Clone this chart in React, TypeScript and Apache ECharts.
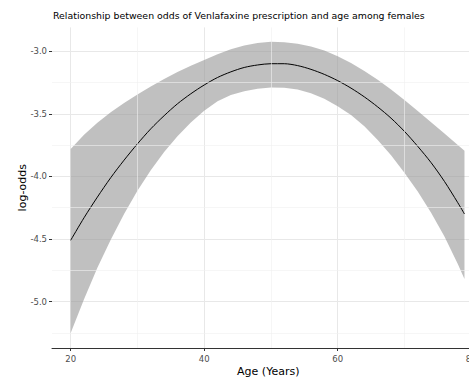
import React, { useEffect, useRef } from "react";
import * as echarts from "echarts";

const titleText = "Relationship between odds of Venlafaxine prescription and age among females";
const xTitle = "Age (Years)";
const yTitle = "log-odds";

const ages = [20, 22, 24, 26, 28, 30, 32, 34, 36, 38, 40, 42, 44, 46, 48, 50, 52, 54, 56, 58, 60, 62, 64, 66, 68, 70, 72, 74, 76, 78, 79];
const fit = [-4.51, -4.33, -4.165, -4.01, -3.87, -3.74, -3.62, -3.515, -3.42, -3.34, -3.27, -3.21, -3.165, -3.13, -3.11, -3.10, -3.10, -3.115, -3.145, -3.185, -3.235, -3.295, -3.365, -3.445, -3.535, -3.64, -3.76, -3.89, -4.04, -4.21, -4.30];
const upper = [-3.78, -3.668, -3.572, -3.488, -3.414, -3.346, -3.282, -3.222, -3.166, -3.116, -3.07, -3.024, -2.984, -2.954, -2.934, -2.924, -2.928, -2.94, -2.962, -2.995, -3.04, -3.095, -3.158, -3.228, -3.305, -3.39, -3.478, -3.568, -3.658, -3.75, -3.795];
const lower = [-5.25, -4.98, -4.73, -4.505, -4.30, -4.115, -3.95, -3.805, -3.68, -3.57, -3.475, -3.40, -3.35, -3.32, -3.30, -3.29, -3.292, -3.305, -3.335, -3.38, -3.44, -3.51, -3.60, -3.71, -3.83, -3.97, -4.12, -4.29, -4.48, -4.70, -4.82];

const xTicks = [20, 40, 60, 80];
const xMinorTicks = [30, 50, 70];
const yTicks = [-5.0, -4.5, -4.0, -3.5, -3.0];
const yMinorTicks = [-5.25, -4.75, -4.25, -3.75, -3.25];

const X_MIN = 17.2;
const X_MAX = 82;
const Y_MIN = -5.37;
const Y_MAX = -2.81;

const FONT = "DejaVu Sans";

export default function App() {
  const ref = useRef<HTMLDivElement>(null);
  useEffect(() => {
    if (!ref.current) return;
    const chart = echarts.init(ref.current, null, { renderer: "svg" });
    const majorGrid = { show: true, lineStyle: { color: "#e8e8e8", width: 1 } };
    chart.setOption({
      animation: false,
      backgroundColor: "#ffffff",
      title: {
        text: titleText,
        left: 53,
        top: 11,
        padding: 0,
        textStyle: { fontFamily: FONT, fontSize: 9.4, fontWeight: "normal", color: "#000" },
      },
      grid: { left: 52, right: 15.5, top: 27.4, bottom: 29, containLabel: false },
      xAxis: {
        type: "value",
        min: X_MIN,
        max: X_MAX,
        name: xTitle,
        nameLocation: "middle",
        nameGap: 18,
        nameMoveOverlap: false,
        nameTextStyle: { fontFamily: FONT, fontSize: 11, color: "#000" },
        axisLine: { show: true, onZero: false, lineStyle: { color: "#333", width: 1 } },
        axisTick: { show: true, length: 3, customValues: xTicks, lineStyle: { color: "#333" } },
        axisLabel: { customValues: xTicks, margin: 6, fontFamily: FONT, fontSize: 8.5, color: "#4d4d4d" },
        splitLine: majorGrid,
      },
      yAxis: {
        type: "value",
        min: Y_MIN,
        max: Y_MAX,
        name: yTitle,
        nameLocation: "middle",
        nameGap: 24,
        nameMoveOverlap: false,
        nameTextStyle: { fontFamily: FONT, fontSize: 11, color: "#000" },
        axisLine: { show: false },
        axisTick: { show: true, length: 3, customValues: yTicks, lineStyle: { color: "#333" } },
        axisLabel: {
          customValues: yTicks,
          margin: 5,
          fontFamily: FONT,
          fontSize: 8.5,
          color: "#4d4d4d",
          formatter: (v: number) => v.toFixed(1),
        },
        splitLine: majorGrid,
      },
      series: [
        {
          type: "line",
          data: [],
          silent: true,
          z: 1,
          markLine: {
            silent: true,
            symbol: "none",
            label: { show: false },
            lineStyle: { color: "#f0f0f0", width: 0.6, type: "solid" },
            data: [
              ...xMinorTicks.map((v) => ({ xAxis: v })),
              ...yMinorTicks.map((v) => ({ yAxis: v })),
            ],
          },
        },
        {
          type: "custom",
          z: 2,
          silent: true,
          data: [[50, -4]],
          renderItem: (_params: any, api: any) => {
            const pts: number[][] = [];
            for (let i = 0; i < ages.length; i++) pts.push(api.coord([ages[i], upper[i]]));
            for (let i = ages.length - 1; i >= 0; i--) pts.push(api.coord([ages[i], lower[i]]));
            return {
              type: "polygon",
              shape: { points: pts },
              style: { fill: "rgba(150,150,150,0.6)", stroke: "none" },
            };
          },
        },
        {
          type: "line",
          z: 3,
          data: ages.map((a, i) => [a, fit[i]]),
          smooth: 0.3,
          symbol: "none",
          lineStyle: { color: "#000", width: 1 },
        },
      ],
    });
    return () => chart.dispose();
  }, []);
  return (
    <div style={{ position: "fixed", left: 0, top: 0, width: 469, height: 382, overflow: "hidden", background: "#fff" }}>
      <div ref={ref} style={{ width: 500, height: 382 }} />
    </div>
  );
}
